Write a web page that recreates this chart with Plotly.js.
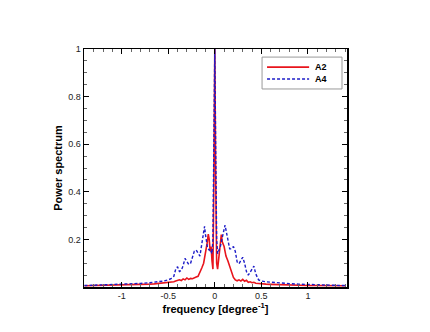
<!DOCTYPE html>
<html>
<head>
<meta charset="utf-8">
<script src="https://cdn.plot.ly/plotly-3.0.1.min.js"></script>
<style>
  html, body { margin: 0; padding: 0; background: #fff; }
  #chart { width: 430px; height: 332px; }
</style>
</head>
<body>
<div id="chart"></div>
<script>
// frequency samples [degree^-1]
const freq = [
  -1.4, -1.3, -1.2, -1.1, -1.0, -0.9, -0.8, -0.7, -0.65, -0.6, -0.55, -0.5,
  -0.47, -0.44, -0.42, -0.40, -0.38, -0.36, -0.34, -0.32, -0.30, -0.28, -0.26,
  -0.24, -0.22, -0.20, -0.18, -0.16, -0.14, -0.12, -0.11, -0.10, -0.09, -0.08,
  -0.07, -0.06, -0.05, -0.04, -0.03, -0.02, -0.01, 0,
  0.01, 0.02, 0.03, 0.04, 0.05, 0.06, 0.07, 0.08, 0.09, 0.10, 0.11, 0.12,
  0.14, 0.16, 0.18, 0.20, 0.22, 0.24, 0.26, 0.28, 0.30, 0.32, 0.34, 0.36,
  0.38, 0.40, 0.42, 0.44, 0.47, 0.5, 0.55, 0.6, 0.65, 0.7, 0.8, 0.9, 1.0,
  1.1, 1.2, 1.3, 1.4
]

const powerA2 = [
  0.005, 0.006, 0.005, 0.007, 0.008, 0.007, 0.010, 0.012, 0.013, 0.015, 0.016, 0.018,
  0.020, 0.022, 0.025, 0.026, 0.030, 0.027, 0.034, 0.030, 0.038, 0.032, 0.036,
  0.035, 0.040, 0.042, 0.045, 0.060, 0.080, 0.100, 0.120, 0.145, 0.160, 0.190,
  0.222, 0.200, 0.150, 0.170, 0.110, 0.075, 0.450, 1.0,
  0.450, 0.100, 0.075, 0.120, 0.160, 0.200, 0.220, 0.190, 0.180, 0.170, 0.150, 0.130,
  0.110, 0.085, 0.055, 0.040, 0.030, 0.026, 0.030, 0.025, 0.032, 0.024, 0.028, 0.020,
  0.022, 0.018, 0.020, 0.016, 0.015, 0.013, 0.012, 0.011, 0.010, 0.009, 0.008, 0.007, 0.006,
  0.006, 0.005, 0.005, 0.005
]

const powerA4 = [
  0.006, 0.007, 0.008, 0.009, 0.010, 0.012, 0.015, 0.018, 0.020, 0.022, 0.025, 0.030,
  0.035, 0.045, 0.075, 0.085, 0.065, 0.070, 0.090, 0.120, 0.110, 0.095, 0.100,
  0.130, 0.150, 0.155, 0.140, 0.130, 0.180, 0.245, 0.255, 0.220, 0.190, 0.170,
  0.160, 0.155, 0.160, 0.150, 0.140, 0.200, 0.550, 1.0,
  0.550, 0.200, 0.140, 0.150, 0.160, 0.170, 0.190, 0.210, 0.230, 0.250, 0.260, 0.240,
  0.200, 0.160, 0.160, 0.170, 0.150, 0.105, 0.098, 0.110, 0.125, 0.100, 0.065, 0.050,
  0.060, 0.075, 0.088, 0.055, 0.030, 0.025, 0.022, 0.020, 0.018, 0.016, 0.014, 0.012, 0.010,
  0.009, 0.008, 0.007, 0.006
]

const seriesNames = ['A2', 'A4']
const yTickVals = [0.2, 0.4, 0.6, 0.8, 1]
const yTickText = ['0.2', '0.4', '0.6', '0.8', '1']
const xTickVals = [-1, -0.5, 0, 0.5, 1]
const xTickText = ['-1', '-0.5', '0', '0.5', '1']

const font = 'Liberation Sans, Arial, sans-serif'
const lineA2 = { color: '#e8141c', width: 1.6 }
const lineA4 = { color: '#1c1cc8', width: 1.4, dash: '3px,2px' }

let traceA2 = {
  type: 'scatter', mode: 'lines', name: seriesNames[0],
  x: freq, y: powerA2, line: lineA2
}
let traceA4 = {
  type: 'scatter', mode: 'lines', name: seriesNames[1],
  x: freq, y: powerA4, line: lineA4
}

let axisCommon = {
  showline: true, linecolor: '#000', linewidth: 1.5, mirror: 'ticks',
  ticks: 'inside', ticklen: 5, tickwidth: 1, tickcolor: '#000',
  showgrid: false, zeroline: false,
  tickfont: { family: font, size: 9, color: '#222' }
}

// compact legend box (plotly's own legend rows are too tall for this one)
let legendShapes = [
  { type: 'rect', xref: 'paper', yref: 'paper', x0: 0.677, x1: 0.981, y0: 0.832, y1: 0.966,
    line: { color: '#999', width: 1 }, fillcolor: '#fff' },
  { type: 'line', xref: 'paper', yref: 'paper', x0: 0.696, x1: 0.856, y0: 0.924, y1: 0.924, line: lineA2 },
  { type: 'line', xref: 'paper', yref: 'paper', x0: 0.696, x1: 0.856, y0: 0.874, y1: 0.874, line: lineA4 }
]
let legendLabels = [
  { xref: 'paper', yref: 'paper', x: 0.872, y: 0.924, text: '<b>' + seriesNames[0] + '</b>',
    showarrow: false, xanchor: 'left', yanchor: 'middle', font: { family: font, size: 9, color: '#000' } },
  { xref: 'paper', yref: 'paper', x: 0.872, y: 0.874, text: '<b>' + seriesNames[1] + '</b>',
    showarrow: false, xanchor: 'left', yanchor: 'middle', font: { family: font, size: 9, color: '#000' } }
]

let layout = {
  width: 430, height: 332,
  margin: { l: 84, r: 83, t: 49, b: 45 },
  paper_bgcolor: '#fff', plot_bgcolor: '#fff',
  showlegend: false,
  shapes: legendShapes,
  annotations: legendLabels,
  xaxis: Object.assign({}, axisCommon, {
    range: [-1.405, 1.42],
    tickvals: xTickVals, ticktext: xTickText,
    minor: { dtick: 0.1, ticks: 'inside', ticklen: 3, tickcolor: '#666' },
    title: {
      text: '<b>frequency [degree<sup>-1</sup>]</b>', standoff: 0,
      font: { family: font, size: 11, color: '#000' }
    }
  }),
  yaxis: Object.assign({}, axisCommon, {
    range: [0, 1],
    tickvals: yTickVals, ticktext: yTickText,
    minor: { dtick: 0.05, ticks: 'inside', ticklen: 3, tickcolor: '#666' },
    title: {
      text: '<b>Power spectrum</b>', standoff: 3,
      font: { family: font, size: 11, color: '#000' }
    }
  })
}

Plotly.newPlot('chart', [traceA2, traceA4], layout, { displayModeBar: false, staticPlot: true })
</script>
</body>
</html>
